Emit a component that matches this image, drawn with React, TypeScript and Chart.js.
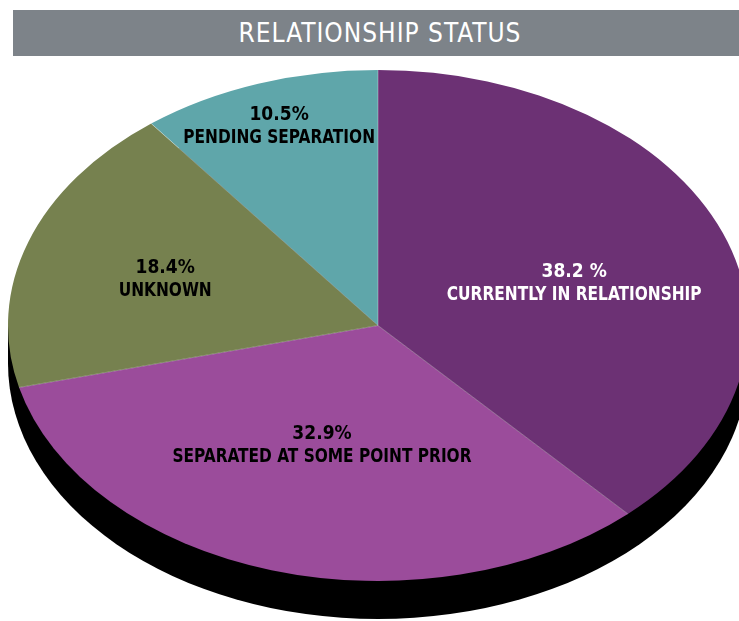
import React, { useEffect, useRef } from "react";
import { Chart, registerables } from "chart.js";

Chart.register(...registerables);

const TITLE = "RELATIONSHIP STATUS";
const CATEGORIES = [
  "CURRENTLY IN RELATIONSHIP",
  "SEPARATED AT SOME POINT PRIOR",
  "UNKNOWN",
  "PENDING SEPARATION",
];
const VALUES = [38.2, 32.9, 18.4, 10.5];
const VALUE_LABELS = ["38.2 %", "32.9%", "18.4%", "10.5%"];
const COLORS = ["#6C3174", "#9B4C9B", "#76814F", "#5FA6AA"];
const TEXT_COLORS = ["#FFFFFF", "#000000", "#000000", "#000000"];

// layout (not data)
const ELLIPSE = { cx: 378, cy: 325.5, rx: 370, ry: 255.5, depth: 38 };
const LABEL_LAYOUT = [
  { r: 0.557, da: 3.4, dy: 1.5 },
  { r: 0.494, da: 1.1, dy: 0 },
  { r: 0.603, da: -1.6, dy: 0 },
  { r: 0.825, da: 0, dy: 0.5 },
];
const LABEL_FONT = '"DejaVu Sans", sans-serif';
const CONDENSE = 0.9;

function condensedText(ctx: CanvasRenderingContext2D, text: string, x: number, y: number, sx: number) {
  ctx.save();
  ctx.translate(x, y);
  ctx.scale(sx, 1);
  ctx.fillText(text, 0, 0);
  ctx.restore();
}

function setFont(ctx: any) {
  ctx.font = `bold 19px ${LABEL_FONT}`;
  try {
    ctx.fontStretch = "condensed";
  } catch (e) {}
}

const ellipsePlugin = {
  id: "ellipse3d",
  beforeDatasetsDraw(chart: any) {
    const ctx = chart.ctx;
    const meta = chart.getDatasetMeta(0);
    const arc = meta.data[0];
    if (!arc) return;
    const { x, y, outerRadius } = arc.getProps(["x", "y", "outerRadius"], true);
    const { cx, cy, rx, ry, depth } = ELLIPSE;
    ctx.save();
    // extruded shadow
    ctx.fillStyle = "#000000";
    ctx.beginPath();
    ctx.ellipse(cx, cy + depth, rx, ry, 0, 0, Math.PI * 2);
    ctx.fill();
    ctx.fillRect(cx - rx, cy, rx * 2, depth);
    // squash the round pie into the ellipse
    ctx.translate(cx, cy);
    ctx.scale(rx / outerRadius, ry / outerRadius);
    ctx.translate(-x, -y);
  },
  afterDatasetsDraw(chart: any) {
    const ctx = chart.ctx;
    ctx.restore();
    const meta = chart.getDatasetMeta(0);
    const { cx, cy, rx, ry } = ELLIPSE;
    // faint seams between slices
    ctx.save();
    ctx.strokeStyle = "rgba(255,255,255,0.4)";
    ctx.lineWidth = 0.8;
    meta.data.forEach((a: any) => {
      const s = a.startAngle;
      ctx.beginPath();
      ctx.moveTo(cx, cy);
      ctx.lineTo(cx + Math.cos(s) * rx, cy + Math.sin(s) * ry);
      ctx.stroke();
    });
    ctx.restore();
    // labels
    ctx.save();
    ctx.textAlign = "center";
    ctx.textBaseline = "middle";
    meta.data.forEach((a: any, i: number) => {
      const lay = LABEL_LAYOUT[i];
      const mid = (a.startAngle + a.endAngle) / 2 + (lay.da * Math.PI) / 180;
      const px = cx + Math.cos(mid) * lay.r * rx;
      const py = cy + Math.sin(mid) * lay.r * ry + lay.dy;
      ctx.fillStyle = TEXT_COLORS[i];
      setFont(ctx);
      condensedText(ctx, VALUE_LABELS[i], px, py - 11.5, 1);
      setFont(ctx);
      condensedText(ctx, CATEGORIES[i], px, py + 11.5, CONDENSE);
    });
    ctx.restore();
  },
};

export default function App() {
  const ref = useRef<HTMLCanvasElement>(null);
  useEffect(() => {
    if (!ref.current) return;
    const chart = new Chart(ref.current, {
      type: "pie",
      data: {
        labels: CATEGORIES,
        datasets: [
          {
            data: VALUES,
            backgroundColor: COLORS,
            borderWidth: 0,
            clip: false,
          } as any,
        ],
      },
      options: {
        responsive: false,
        animation: false,
        events: [],
        layout: { padding: 0 },
        plugins: {
          legend: { display: false },
          tooltip: { enabled: false },
          title: { display: false },
        },
      },
      plugins: [ellipsePlugin],
    });
    return () => chart.destroy();
  }, []);

  return (
    <div style={{ position: "absolute", left: 0, top: 0, width: 739, height: 621, background: "#fff" }}>
      <canvas
        ref={ref}
        width={739}
        height={621}
        style={{ position: "absolute", left: 0, top: 0, width: 739, height: 621 }}
      />
      <div
        style={{
          position: "absolute",
          left: 13,
          top: 10,
          width: 726,
          height: 46,
          background: "#7D8389",
          color: "#FFFFFF",
          fontFamily: LABEL_FONT,
          fontStretch: "condensed",
          fontSize: 26,
          letterSpacing: 1,
          lineHeight: "46px",
          textAlign: "center",
          paddingLeft: 8,
          boxSizing: "border-box",
        }}
      >
        {TITLE}
      </div>
    </div>
  );
}
